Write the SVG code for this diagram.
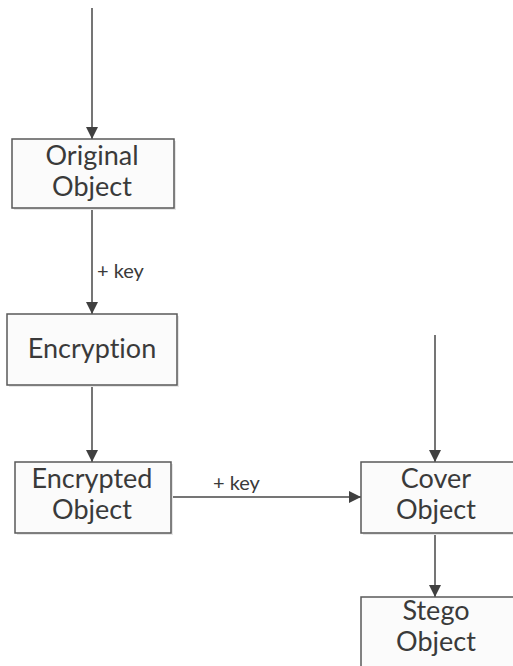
<svg xmlns="http://www.w3.org/2000/svg" width="513" height="666" viewBox="0 0 513 666">
<style>
.box{fill:#fbfbfb;stroke:#595959;stroke-width:1.5}
.shadow{fill:#e6e6e6}
.t{font-family:Lato,"Open Sans","Liberation Sans",sans-serif;font-size:27px;fill:#3a3a3a;text-anchor:middle;font-variant-ligatures:none}
.k{font-family:Lato,"Open Sans","Liberation Sans",sans-serif;font-size:20px;fill:#3a3a3a}
.c{stroke:#474747;stroke-width:1.5;fill:none}
</style>
<defs>
<marker id="ah" markerWidth="12" markerHeight="12" refX="12" refY="6" orient="auto" markerUnits="userSpaceOnUse">
<path d="M0,0 L12,6 L0,12 Z" fill="#404040"/>
</marker>
</defs>
<rect width="513" height="666" fill="#ffffff"/>
<g id="connectors">
<line class="c" x1="92" y1="8" x2="92" y2="139" marker-end="url(#ah)"/>
<line class="c" x1="92" y1="208" x2="92" y2="314" marker-end="url(#ah)"/>
<line class="c" x1="92" y1="385" x2="92" y2="462" marker-end="url(#ah)"/>
<line class="c" x1="171" y1="497" x2="361" y2="497" marker-end="url(#ah)"/>
<line class="c" x1="435" y1="335" x2="435" y2="462" marker-end="url(#ah)"/>
<line class="c" x1="435" y1="533" x2="435" y2="597" marker-end="url(#ah)"/>
<text class="k" x="97" y="278">+ key</text>
<text class="k" x="213" y="490">+ key</text>
</g>
<g id="original">
<rect class="shadow" x="14" y="141" width="162" height="69"/>
<rect class="box" x="12" y="139" width="162" height="69"/>
<text class="t" x="92" y="165">Original</text>
<text class="t" x="92" y="196">Object</text>
</g>
<g id="encryption">
<rect class="shadow" x="9" y="316" width="170" height="71"/>
<rect class="box" x="7" y="314" width="170" height="71"/>
<text class="t" x="92" y="358">Encryption</text>
</g>
<g id="encrypted">
<rect class="shadow" x="17" y="464" width="156" height="71"/>
<rect class="box" x="15" y="462" width="156" height="71"/>
<text class="t" x="92" y="488">Encrypted</text>
<text class="t" x="92" y="519">Object</text>
</g>
<g id="cover">
<rect class="shadow" x="363" y="464" width="160" height="71"/>
<rect class="box" x="361" y="462" width="160" height="71"/>
<text class="t" x="436" y="488">Cover</text>
<text class="t" x="436" y="519">Object</text>
</g>
<g id="stego">
<rect class="shadow" x="363" y="599" width="160" height="80"/>
<rect class="box" x="361" y="597" width="160" height="80"/>
<text class="t" x="436" y="620">Stego</text>
<text class="t" x="436" y="651">Object</text>
</g>
</svg>
